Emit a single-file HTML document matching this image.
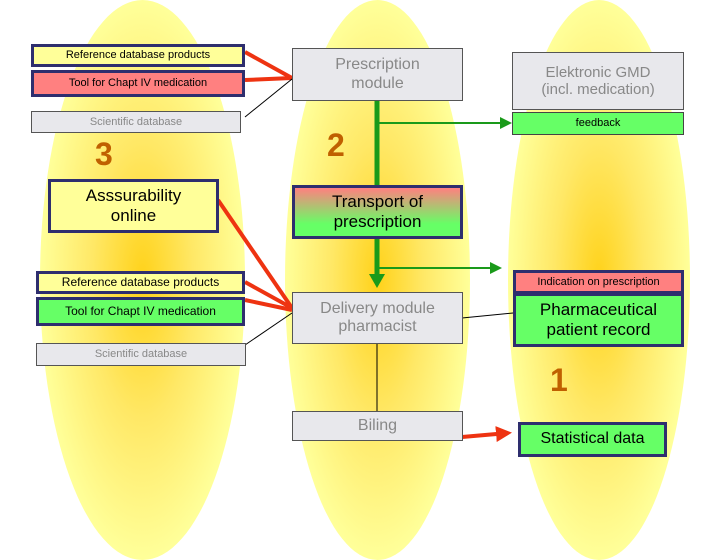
<!DOCTYPE html>
<html><head><style>
body{margin:0;width:720px;height:540px;position:relative;background:#fff;font-family:"Liberation Sans",sans-serif;overflow:hidden}
.el{position:absolute;border-radius:50%;background:radial-gradient(ellipse at center,#ffd21a 0%,#ffe866 35%,#ffff99 70%,#ffffa8 100%)}
.b{position:absolute;box-sizing:border-box;display:flex;align-items:center;justify-content:center;text-align:center;line-height:1.15}
.n{border:3px solid #2e2e6e}
.g{background:#e8e8ec;border:1px solid #555;color:#888}
.y{background:#ffff99}.r{background:#ff8080}.gr{background:#66ff66}
.num{position:absolute;color:#c06000;font-weight:bold;font-size:32px}
svg{position:absolute;left:0;top:0}
</style></head><body>
<div class="el" style="left:40px;top:0;width:205px;height:560px"></div>
<div class="el" style="left:285px;top:0;width:185px;height:560px"></div>
<div class="el" style="left:508px;top:0;width:182px;height:560px"></div>
<svg width="720" height="540">
<defs><marker id="ag" markerWidth="6" markerHeight="6" refX="5" refY="3" orient="auto"><path d="M0,0L6,3L0,6z" fill="#1a9a1a"/></marker>
<marker id="ar" markerWidth="4" markerHeight="4" refX="3" refY="2" orient="auto"><path d="M0,0L4,2L0,4z" fill="#ee3311"/></marker></defs>
<g stroke="#ee3311" stroke-width="4" fill="none">
<line x1="245" y1="52" x2="292" y2="78"/><line x1="245" y1="80" x2="292" y2="78"/>
<line x1="218" y1="200" x2="292" y2="308"/><line x1="245" y1="282" x2="292" y2="308"/><line x1="245" y1="300" x2="292" y2="310"/>
<line x1="462" y1="437" x2="508" y2="433" marker-end="url(#ar)"/>
</g>
<g stroke="#000" stroke-width="1">
<line x1="245" y1="117" x2="292" y2="79"/><line x1="245" y1="345" x2="292" y2="313"/>
<line x1="462" y1="318" x2="513" y2="313"/><line x1="377" y1="343" x2="377" y2="411"/>
</g>
<g stroke="#1a9a1a" fill="none">
<line x1="377" y1="100" x2="377" y2="185" stroke-width="5"/>
<line x1="377" y1="238" x2="377" y2="276" stroke-width="5"/>
<path d="M369,274L385,274L377,288z" fill="#1a9a1a" stroke="none"/>
<line x1="377" y1="123" x2="510" y2="123" stroke-width="2" marker-end="url(#ag)"/>
<line x1="377" y1="268" x2="500" y2="268" stroke-width="2" marker-end="url(#ag)"/>
</g>
</svg>
<div class="b n y" style="left:31px;top:44px;width:214px;height:23px;font-size:11px">Reference database products</div>
<div class="b n r" style="left:31px;top:70px;width:214px;height:27px;font-size:11px">Tool for Chapt IV medication</div>
<div class="b g" style="left:31px;top:111px;width:210px;height:22px;font-size:11px">Scientific database</div>
<div class="num" style="left:95px;top:136px">3</div>
<div class="b n y" style="left:48px;top:179px;width:171px;height:54px;font-size:17px">Asssurability<br>online</div>
<div class="b g" style="left:292px;top:48px;width:171px;height:53px;font-size:16px">Prescription<br>module</div>
<div class="num" style="left:327px;top:127px">2</div>
<div class="b n" style="left:292px;top:185px;width:171px;height:54px;font-size:17px;background:linear-gradient(#ff8080,#66ff66 75%)">Transport of<br>prescription</div>
<div class="b g" style="left:512px;top:52px;width:172px;height:58px;font-size:15px">Elektronic GMD<br>(incl. medication)</div>
<div class="b gr" style="left:512px;top:112px;width:172px;height:23px;font-size:11px;border:1px solid #444">feedback</div>
<div class="b n y" style="left:36px;top:271px;width:209px;height:23px;font-size:12px">Reference database products</div>
<div class="b n gr" style="left:36px;top:297px;width:209px;height:29px;font-size:12px">Tool for Chapt IV medication</div>
<div class="b g" style="left:36px;top:343px;width:210px;height:23px;font-size:11px">Scientific database</div>
<div class="b g" style="left:292px;top:292px;width:171px;height:52px;font-size:16px">Delivery module<br>pharmacist</div>
<div class="b n r" style="left:513px;top:270px;width:171px;height:24px;font-size:11px">Indication on prescription</div>
<div class="b n gr" style="left:513px;top:293px;width:171px;height:54px;font-size:17px">Pharmaceutical<br>patient record</div>
<div class="num" style="left:550px;top:362px">1</div>
<div class="b g" style="left:292px;top:411px;width:171px;height:30px;font-size:16px">Biling</div>
<div class="b n gr" style="left:518px;top:422px;width:149px;height:35px;font-size:16px">Statistical data</div>
</body></html>
